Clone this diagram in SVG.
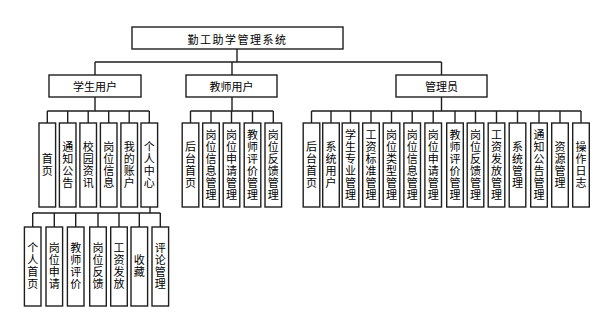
<svg xmlns="http://www.w3.org/2000/svg" width="608" height="317" viewBox="0 0 608 317">
<style>
rect{fill:#fff;stroke:#1e1e1e;stroke-width:1.4}
.c path{fill:none;stroke:#1e1e1e;stroke-width:1.4}
text{font-family:"Noto Sans CJK SC","Noto Sans",sans-serif;font-size:11px;fill:#000;text-anchor:middle}
.h{dominant-baseline:central}
.v{writing-mode:vertical-rl;letter-spacing:1px}
</style>
<rect width="608" height="317" fill="#fff" style="stroke:none"/>
<g class="c" id="connectors">
<path d="M237 49V62M95 62H441.5M95 62V75M232 62V75M441.5 62V75"/>
<path d="M95 97V111M47.3 111H149.3M47.3 111V123M67.7 111V123M88.2 111V123M108.7 111V123M129.2 111V123M149.3 111V123"/>
<path d="M150 207V213M32.7 213H160.3M32.7 213V227M54.3 213V227M75.7 213V227M98 213V227M119 213V227M139.3 213V227M160.3 213V227"/>
<path d="M232 97V111M190.5 111H273.3M190.5 111V123M211 111V123M231.5 111V123M252.5 111V123M273.3 111V123"/>
<path d="M441.5 97V111M311.5 111H581M311.5 111V123M331 111V123M350.5 111V123M371 111V123M391.5 111V123M412.2 111V123M433.2 111V123M455 111V123M475.5 111V123M496.5 111V123M517.5 111V123M539 111V123M560 111V123M581 111V123"/>
</g>
<g id="root"><rect x="132" y="27" width="211" height="22"/><text class="h" x="237.5" y="38.5" style="letter-spacing:1.5px">勤工助学管理系统</text></g>
<g id="student"><rect x="49" y="75" width="92" height="22"/><text class="h" x="95" y="86">学生用户</text></g>
<g id="teacher"><rect x="186" y="75" width="91" height="22"/><text class="h" x="231.5" y="86">教师用户</text></g>
<g id="admin"><rect x="396" y="75" width="91" height="22"/><text class="h" x="441.5" y="86">管理员</text></g>

<g id="s1"><rect x="39" y="123" width="16.6" height="84"/><text class="v" x="47.3" y="165">首页</text></g>
<g id="s2"><rect x="59.4" y="123" width="16.6" height="84"/><text class="v" x="67.7" y="165">通知公告</text></g>
<g id="s3"><rect x="79.9" y="123" width="16.6" height="84"/><text class="v" x="88.2" y="165">校园资讯</text></g>
<g id="s4"><rect x="100.4" y="123" width="16.6" height="84"/><text class="v" x="108.7" y="165">岗位信息</text></g>
<g id="s5"><rect x="120.9" y="123" width="16.6" height="84"/><text class="v" x="129.2" y="165">我的账户</text></g>
<g id="s6"><rect x="141" y="123" width="16.6" height="84"/><text class="v" x="149.3" y="165">个人中心</text></g>

<g id="p1"><rect x="24.4" y="227" width="16.6" height="79"/><text class="v" x="32.7" y="266.5">个人首页</text></g>
<g id="p2"><rect x="46" y="227" width="16.6" height="79"/><text class="v" x="54.3" y="266.5">岗位申请</text></g>
<g id="p3"><rect x="67.4" y="227" width="16.6" height="79"/><text class="v" x="75.7" y="266.5">教师评价</text></g>
<g id="p4"><rect x="89.7" y="227" width="16.6" height="79"/><text class="v" x="98" y="266.5">岗位反馈</text></g>
<g id="p5"><rect x="110.7" y="227" width="16.6" height="79"/><text class="v" x="119" y="266.5">工资发放</text></g>
<g id="p6"><rect x="131" y="227" width="16.6" height="79"/><text class="v" x="139.3" y="266.5">收藏</text></g>
<g id="p7"><rect x="152" y="227" width="16.6" height="79"/><text class="v" x="160.3" y="266.5">评论管理</text></g>

<g id="t1"><rect x="182.2" y="123" width="16.6" height="84"/><text class="v" x="190.5" y="165">后台首页</text></g>
<g id="t2"><rect x="202.7" y="123" width="16.6" height="84"/><text class="v" x="211" y="165">岗位信息管理</text></g>
<g id="t3"><rect x="223.2" y="123" width="16.6" height="84"/><text class="v" x="231.5" y="165">岗位申请管理</text></g>
<g id="t4"><rect x="244.2" y="123" width="16.6" height="84"/><text class="v" x="252.5" y="165">教师评价管理</text></g>
<g id="t5"><rect x="265" y="123" width="16.6" height="84"/><text class="v" x="273.3" y="165">岗位反馈管理</text></g>

<g id="a1"><rect x="303.2" y="123" width="16.6" height="84"/><text class="v" x="311.5" y="165">后台首页</text></g>
<g id="a2"><rect x="322.7" y="123" width="16.6" height="84"/><text class="v" x="331" y="165">系统用户</text></g>
<g id="a3"><rect x="342.2" y="123" width="16.6" height="84"/><text class="v" x="350.5" y="165">学生专业管理</text></g>
<g id="a4"><rect x="362.7" y="123" width="16.6" height="84"/><text class="v" x="371" y="165">工资标准管理</text></g>
<g id="a5"><rect x="383.2" y="123" width="16.6" height="84"/><text class="v" x="391.5" y="165">岗位类型管理</text></g>
<g id="a6"><rect x="403.9" y="123" width="16.6" height="84"/><text class="v" x="412.2" y="165">岗位信息管理</text></g>
<g id="a7"><rect x="424.9" y="123" width="16.6" height="84"/><text class="v" x="433.2" y="165">岗位申请管理</text></g>
<g id="a8"><rect x="446.7" y="123" width="16.6" height="84"/><text class="v" x="455" y="165">教师评价管理</text></g>
<g id="a9"><rect x="467.2" y="123" width="16.6" height="84"/><text class="v" x="475.5" y="165">岗位反馈管理</text></g>
<g id="a10"><rect x="488.2" y="123" width="16.6" height="84"/><text class="v" x="496.5" y="165">工资发放管理</text></g>
<g id="a11"><rect x="509.2" y="123" width="16.6" height="84"/><text class="v" x="517.5" y="165">系统管理</text></g>
<g id="a12"><rect x="530.7" y="123" width="16.6" height="84"/><text class="v" x="539" y="165">通知公告管理</text></g>
<g id="a13"><rect x="551.7" y="123" width="16.6" height="84"/><text class="v" x="560" y="165">资源管理</text></g>
<g id="a14"><rect x="572.7" y="123" width="16.6" height="84"/><text class="v" x="581" y="165">操作日志</text></g>
</svg>
